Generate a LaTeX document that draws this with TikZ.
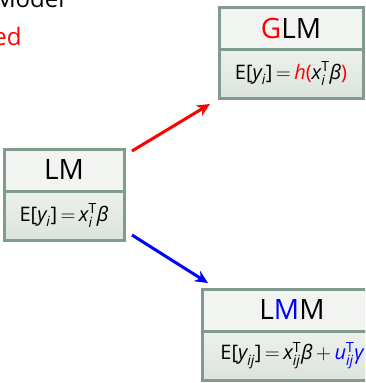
\documentclass[tikz,border=0pt]{standalone}
\usepackage{amsmath}
\usepackage{fontspec}
\setmainfont{Open Sans}
\usepackage{xcolor}
\usepackage{tikz}
\usetikzlibrary{positioning, arrows.meta}
\definecolor{boxline}{HTML}{7F9C8E}
\definecolor{headfill}{HTML}{F1F4F1}
\definecolor{bodytop}{HTML}{EDF1ED}
\definecolor{bodybot}{HTML}{DCE3DC}
\newcommand{\iv}[1]{\textit{#1}}
\newcommand{\expv}[1]{\text{E[}#1\text{]}}

\begin{document}
\begin{tikzpicture}[x=1pt, y=1pt, node distance=0pt,
        head/.style={draw=boxline, line width=3pt, fill=headfill, outer sep=0pt, minimum height=42pt, inner sep=2pt, font=\fontsize{28}{32}\selectfont},
        body/.style={draw=boxline, line width=3pt, top color=bodytop, bottom color=bodybot, outer sep=0pt, minimum height=49pt, inner sep=2pt, font=\fontsize{20}{24}\selectfont},
        link/.style={line width=3pt, -{Stealth[length=13pt, width=12pt]}}]
        \useasboundingbox (0,0) rectangle (365,-383);
        \clip (0,0) rectangle (365,-383);
        \node[anchor=base east, font=\fontsize{24}{28}\selectfont] (model) at (68,-7) {Model};
        \node[anchor=base east, text=red, font=\fontsize{24}{28}\selectfont] (gen) at (25,-45) {Generalized};
        \node[head, minimum width=120pt, anchor=north west] (lm) at (4,-149) {LM};
        \node[body, minimum width=120pt, below=of lm] (lmf) {$\expv{\iv{y}_{\iv{i}}}{\,=\,}\iv{x}_{\iv{i}}^{\text{T}}\iv{β}$};
        \node[head, minimum width=144pt, anchor=north west] (glm) at (219,-7) {\textcolor{red}{G}LM};
        \node[body, minimum width=144pt, below=of glm] (glmf) {$\expv{\iv{y}_{\iv{i}}}{\,=\,}{\color{red}\iv{h}\text{(}}\iv{x}_{\iv{i}}^{\text{T}}\iv{β}{\color{red}\text{)}}$};
        \node[head, minimum width=180pt, anchor=north west] (lmm) at (202,-289) {L\textcolor{blue}{M}M};
        \node[body, minimum width=180pt, below=of lmm] (lmmf) {$\expv{\iv{y}_{\iv{ij}}}{\,=\,}\iv{x}_{\iv{ij}}^{\text{T}}\iv{β}{\,+\,}{\color{blue}\iv{u}_{\iv{ij}}^{\text{T}}\iv{γ}}$};
        \draw[link, red] ([xshift=8pt, yshift=-2pt]lm.north east) -- ([xshift=-9pt, yshift=-6pt]glmf.south west);
        \draw[link, blue] ([xshift=8pt, yshift=5pt]lmf.south east) -- ([xshift=6pt, yshift=6pt]lmm.north west);
      \end{tikzpicture}
\end{document}
